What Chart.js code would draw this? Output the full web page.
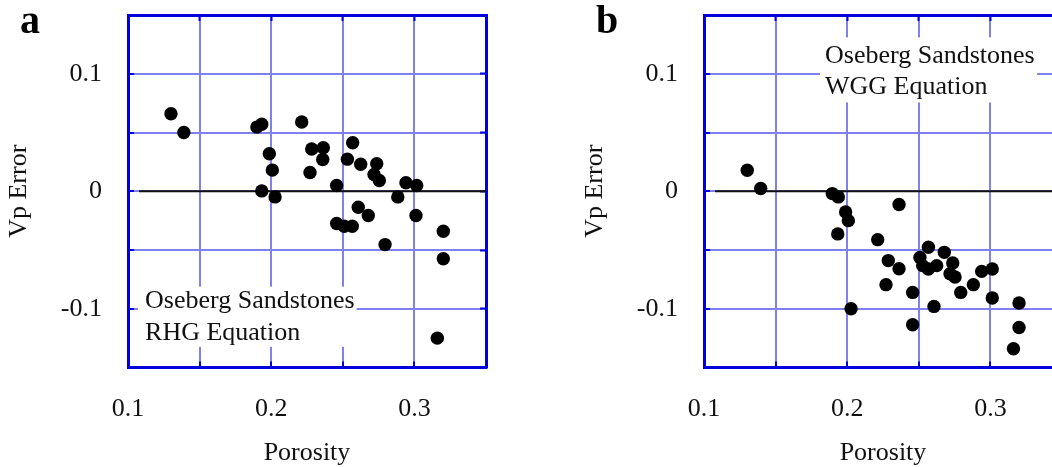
<!DOCTYPE html>
<html>
<head>
<meta charset="utf-8">
<script src="https://cdn.jsdelivr.net/npm/chart.js@4.4.1/dist/chart.umd.min.js"></script>
<style>
  html, body { margin: 0; padding: 0; background: #fff; overflow: hidden; width: 1052px; height: 467px; }
  .panel { position: absolute; top: 0; width: 520px; height: 467px; }
  #panelA { left: 0; }
  #panelB { left: 576px; }
</style>
</head>
<body>
<div class="panel" id="panelA"><canvas id="chartA" width="520" height="467"></canvas></div>
<div class="panel" id="panelB"><canvas id="chartB" width="520" height="467"></canvas></div>
<script>
// ---- data ----
// panel a: RHG equation
const porosityA = [0.130, 0.139, 0.190, 0.1934, 0.2213, 0.1987, 0.2008, 0.1934, 0.2027, 0.2283, 0.2271,
  0.2364, 0.236, 0.2569, 0.2532, 0.2625, 0.2737, 0.2718, 0.2755, 0.2457, 0.2941, 0.3016, 0.2884,
  0.2608, 0.2678, 0.2457, 0.251, 0.2566, 0.3011, 0.3202, 0.2795, 0.3202, 0.316];
const errorA = [0.066, 0.050, 0.0546, 0.057, 0.059, 0.0319, 0.018, 0.0003, -0.0048, 0.036, 0.016,
  0.037, 0.027, 0.0413, 0.0273, 0.023, 0.0234, 0.0142, 0.0091, 0.0049, 0.0072, 0.0049, -0.0048,
  -0.0136, -0.0207, -0.0275, -0.0298, -0.0298, -0.0207, -0.0341, -0.0454, -0.0574, -0.125];

// panel b: WGG equation
const porosityB = [0.1302, 0.1396, 0.1896, 0.1938, 0.1989, 0.2008, 0.1934, 0.2213, 0.2362, 0.2027, 0.2287,
  0.2362, 0.2271, 0.2457, 0.2457, 0.2567, 0.2508, 0.2527, 0.2567, 0.2625, 0.2678, 0.2737, 0.2718,
  0.2753, 0.2606, 0.2793, 0.2881, 0.2939, 0.3013, 0.3013, 0.32, 0.32, 0.3161];
const errorB = [0.0179, 0.0023, -0.002, -0.0048, -0.0176, -0.025, -0.0363, -0.0412, -0.0113, -0.100, -0.059,
  -0.0659, -0.0795, -0.0861, -0.1136, -0.0477, -0.0563, -0.0633, -0.0662, -0.0633, -0.052, -0.061, -0.0702,
  -0.073, -0.098, -0.0861, -0.0795, -0.0682, -0.0662, -0.0909, -0.0951, -0.1159, -0.134];

const xTicksShown = [0.1, 0.2, 0.3];
const yTicksShown = [0.1, 0, -0.1];
const zeroLineX = [0.1077, 0.35];
const zeroLineY = [0, 0];
const noteA = ['Oseberg Sandstones', 'RHG Equation'];
const noteB = ['Oseberg Sandstones', 'WGG Equation'];

const SERIF = '"Liberation Serif", "Times New Roman", serif';
const GRID_BLUE = 'rgb(128,128,240)';
const FRAME_BLUE = 'rgb(0,0,220)';
const INK = '#111';
const FONT_SIZE = 26;

const isShown = (v, list) => list.some(t => Math.abs(t - v) < 1e-6);

// pin an axis box to a fixed size and drop the label overhang padding
const pin = (w, h) => s => {
  if (w != null) s.width = w;
  if (h != null) s.height = h;
  s.paddingTop = s.paddingBottom = s.paddingLeft = s.paddingRight = 0;
};

// white label box + text, drawn over the grid but under the dots
// also the bold panel letter in the corner
const panelDecor = {
  id: 'panelDecor',
  beforeDatasetsDraw(chart, args, opts) {
    const { ctx } = chart;
    const xs = chart.scales.x, ys = chart.scales.y;
    const b = opts.box;
    const x0 = xs.getPixelForValue(b.x0), x1 = xs.getPixelForValue(b.x1);
    const y0 = ys.getPixelForValue(b.y0), y1 = ys.getPixelForValue(b.y1);
    ctx.save();
    ctx.fillStyle = '#fff';
    ctx.fillRect(x0, y0, x1 - x0, y1 - y0);
    ctx.fillStyle = INK;
    ctx.font = FONT_SIZE + 'px ' + SERIF;
    ctx.textAlign = 'left';
    ctx.textBaseline = 'alphabetic';
    const tx = xs.getPixelForValue(opts.textX);
    const ty = ys.getPixelForValue(opts.textY);
    opts.lines.forEach((line, i) => ctx.fillText(line, tx, ty + i * 31.7));
    ctx.restore();
  },
  afterDraw(chart, args, opts) {
    const { ctx } = chart;
    ctx.save();
    ctx.fillStyle = '#000';
    ctx.font = 'bold 40px ' + SERIF;
    ctx.textBaseline = 'alphabetic';
    ctx.fillText(opts.letter, 20, 33);
    ctx.restore();
  }
};

function makeScales() {
  const range = {
    x: { min: 0.1, max: 0.35 },
    y: { min: -0.15, max: 0.15 },
  };
  const tickFont = { family: SERIF, size: FONT_SIZE, lineHeight: 1.2 };
  const stub = { display: true, drawOnChartArea: false, drawTicks: true, tickLength: -6, tickColor: FRAME_BLUE, tickWidth: 2 };
  const frame = { display: true, color: FRAME_BLUE, width: 3 };
  return {
    x: {
      type: 'linear', position: 'bottom', ...range.x,
      afterFit: pin(null, 99.5),
      grid: { color: GRID_BLUE, lineWidth: 2, drawTicks: true, tickLength: -6, tickColor: FRAME_BLUE, tickWidth: 2 },
      border: frame,
      ticks: {
        stepSize: 0.05, autoSkip: false, maxRotation: 0, padding: 32, color: INK, font: tickFont,
        callback: v => isShown(v, xTicksShown) ? String(Math.round(v * 10) / 10) : '',
      },
      title: { display: true, text: 'Porosity', color: INK, font: { family: SERIF, size: FONT_SIZE, lineHeight: 1.2 }, padding: { top: 0, bottom: -2 } },
    },
    y: {
      type: 'linear', position: 'left', ...range.y,
      afterFit: pin(128, null),
      grid: { color: GRID_BLUE, lineWidth: 2, drawTicks: true, tickLength: -6, tickColor: FRAME_BLUE, tickWidth: 2 },
      border: frame,
      ticks: {
        stepSize: 0.05, autoSkip: false, padding: 32, color: INK, font: tickFont,
        callback: v => isShown(v, yTicksShown) ? String(Math.round(v * 10) / 10) : '',
      },
      title: { display: true, text: 'Vp Error', color: INK, font: { family: SERIF, size: FONT_SIZE, lineHeight: 1.2 }, padding: { top: 4, bottom: 0 } },
    },
    x2: {
      type: 'linear', position: 'top', ...range.x,
      afterFit: pin(null, 15),
      grid: stub, border: frame,
      ticks: { stepSize: 0.05, display: false },
    },
    y2: {
      type: 'linear', position: 'right', ...range.y,
      afterFit: pin(34, null),
      grid: stub, border: frame,
      ticks: { stepSize: 0.05, display: false },
    },
  };
}

function makePanel(id, porosity, error, decor) {
  const points = porosity.map((p, i) => ({ x: p, y: error[i] }));
  const zero = zeroLineX.map((x, i) => ({ x, y: zeroLineY[i] }));
  return new Chart(document.getElementById(id), {
    type: 'scatter',
    data: {
      datasets: [
        { data: points, backgroundColor: '#000', borderWidth: 0, pointRadius: 6.7, pointHoverRadius: 6.7 },
        { type: 'line', data: zero, borderColor: INK, borderWidth: 2, pointRadius: 0, fill: false },
      ],
    },
    options: {
      responsive: false,
      devicePixelRatio: 1,
      animation: false,
      events: [],
      layout: { padding: 0 },
      plugins: { legend: { display: false }, tooltip: { enabled: false }, panelDecor: decor },
      scales: makeScales(),
    },
    plugins: [panelDecor],
  });
}

makePanel('chartA', porosityA, errorA, {
  letter: 'a', lines: noteA,
  box: { x0: 0.107, x1: 0.2596, y0: -0.0812, y1: -0.1324 },
  textX: 0.1119, textY: -0.0994,
});
makePanel('chartB', porosityB, errorB, {
  letter: 'b', lines: noteB,
  box: { x0: 0.181, x1: 0.3326, y0: 0.131, y1: 0.0756 },
  textX: 0.1845, textY: 0.1095,
});
</script>
</body>
</html>
